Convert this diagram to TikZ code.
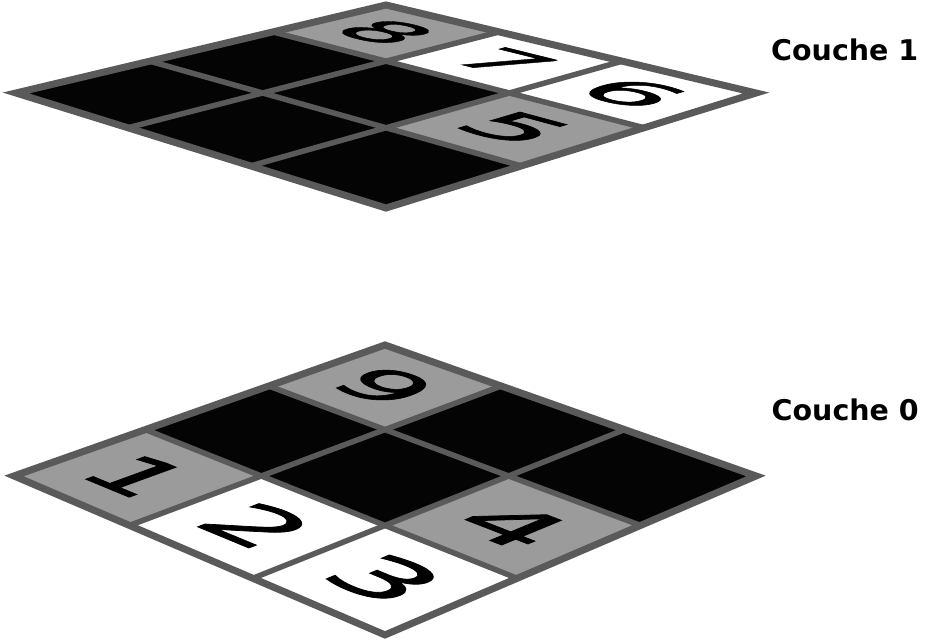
\documentclass[tikz,border=0pt]{standalone}
\usepackage{fontspec}
\newfontfamily\labfont{DejaVu Sans}
\newfontfamily\digfont{DejaVu Sans}[FakeStretch=1.35, FakeBold=1.5]
\definecolor{bordergray}{RGB}{90,90,90}
\definecolor{cellgray}{RGB}{155,155,155}
\definecolor{cellblack}{RGB}{4,4,4}
\definecolor{cellwhite}{RGB}{255,255,255}

\tikzset{
  gridline/.style={draw=bordergray, line width=5.5pt},
  gridborder/.style={draw=bordergray, line width=7pt, line join=miter},
  digitstyle/.style={font=\digfont\fontsize{10}{12}\selectfont, inner sep=0pt, transform shape, text=black},
  layerlabel/.style={font=\labfont\bfseries\fontsize{28.5}{34}\selectfont, inner sep=0pt, text=black}
}

\def\dk{0.022}

% projective grid: name, xc, a, c, d, p
\newcommand\setgrid[6]{%
  \def\Gn{#1}\def\Gxc{#2}\def\Ga{#3}\def\Gc{#4}\def\Gd{#5}\def\Gp{#6}%
  \foreach \i in {0,1,2,3}{\foreach \j in {0,1,2,3}{%
    \pgfmathsetmacro\Gden{1+(\Gp)*(\i+\j)/3}%
    \pgfmathsetmacro\GX{\Gxc+\Ga*(\i-\j)/3/\Gden}%
    \pgfmathsetmacro\GY{(\Gc+\Gd*(\i+\j)/3)/\Gden}%
    \coordinate (\Gn-\i-\j) at (\GX,\GY);%
  }}%
}

\newcommand\gcell[3]{%
  \pgfmathtruncatemacro\ii{#1+1}\pgfmathtruncatemacro\jj{#2+1}%
  \fill[#3] (\Gn-#1-#2) -- (\Gn-\ii-#2) -- (\Gn-\ii-\jj) -- (\Gn-#1-\jj) -- cycle;%
}

\newcommand\gdigit[4]{%
  \pgfmathsetmacro\du{(#1+0.5)/3}%
  \pgfmathsetmacro\dv{(#2+0.5)/3}%
  \pgfmathsetmacro\dD{1+(\Gp)*(\du+\dv)}%
  \pgfmathsetmacro\dX{\Gxc+\Ga*(\du-\dv)/\dD}%
  \pgfmathsetmacro\dY{(\Gc+\Gd*(\du+\dv))/\dD}%
  \pgfmathsetmacro\dxu{\Ga/\dD-\Ga*(\du-\dv)*(\Gp)/(\dD*\dD)}%
  \pgfmathsetmacro\dxv{-\Ga/\dD-\Ga*(\du-\dv)*(\Gp)/(\dD*\dD)}%
  \pgfmathsetmacro\dyu{\Gd/\dD-(\Gc+\Gd*(\du+\dv))*(\Gp)/(\dD*\dD)}%
  \pgfmathsetmacro\mA{\dxu*\dk}\pgfmathsetmacro\mB{-\dyu*\dk}%
  \pgfmathsetmacro\mC{-\dxv*\dk}\pgfmathsetmacro\mD{\dyu*\dk}%
  \begin{scope}[cm={\mA,\mB,\mC,\mD,(\dX pt,-\dY pt)}]
    \node[digitstyle] (#3) at (0,0) {#4};
  \end{scope}%
}

\newcommand\glines{%
  \foreach \k in {1,2}{%
    \draw[gridline] (\Gn-\k-0) -- (\Gn-\k-3);
    \draw[gridline] (\Gn-0-\k) -- (\Gn-3-\k);}%
  \draw[gridborder] (\Gn-0-0) -- (\Gn-3-0) -- (\Gn-3-3) -- (\Gn-0-3) -- cycle;%
}

\begin{document}
\begin{tikzpicture}[x=1pt,y=-1pt]
\useasboundingbox (0,0) rectangle (944,642);
\fill[white] (0,0) rectangle (944,642);

% ---- Couche 1 (top grid)
\setgrid{A}{386}{326.6}{5}{77.08}{-0.1174}
\gcell{0}{0}{cellgray}
\gcell{1}{0}{cellwhite}
\gcell{2}{0}{cellwhite}
\gcell{0}{1}{cellblack}
\gcell{1}{1}{cellblack}
\gcell{2}{1}{cellgray}
\gcell{0}{2}{cellblack}
\gcell{1}{2}{cellblack}
\gcell{2}{2}{cellblack}
\gdigit{0}{0}{d8}{8}
\gdigit{1}{0}{d7}{7}
\gdigit{2}{0}{d6}{6}
\gdigit{2}{1}{d5}{5}
\glines

% ---- Couche 0 (bottom grid)
\setgrid{B}{385}{338.4}{345}{89.1}{-0.088}
\gcell{0}{0}{cellgray}
\gcell{1}{0}{cellblack}
\gcell{2}{0}{cellblack}
\gcell{0}{1}{cellblack}
\gcell{1}{1}{cellblack}
\gcell{2}{1}{cellgray}
\gcell{0}{2}{cellgray}
\gcell{1}{2}{cellwhite}
\gcell{2}{2}{cellwhite}
\gdigit{0}{0}{d9}{9}
\gdigit{2}{1}{d4}{4}
\gdigit{0}{2}{d1}{1}
\gdigit{1}{2}{d2}{2}
\gdigit{2}{2}{d3}{3}
\glines

\node[layerlabel, anchor=base west] (lab1) at (771,60) {Couche 1};
\node[layerlabel, anchor=base west] (lab0) at (771.5,420.5) {Couche 0};
\end{tikzpicture}
\end{document}
